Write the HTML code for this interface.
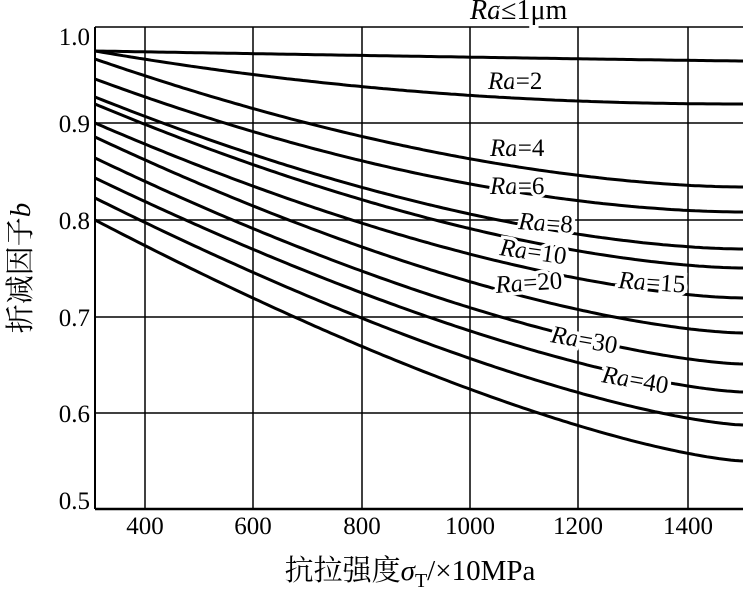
<!DOCTYPE html>
<html><head><meta charset="utf-8"><style>
html,body{margin:0;padding:0;background:#fff;}
svg{display:block;font-family:"Liberation Serif","Noto Serif CJK SC",serif;}
</style></head><body>
<svg id="s" width="745" height="608" viewBox="0 0 745 608" xmlns="http://www.w3.org/2000/svg">
<g stroke="#000" stroke-width="1.5" fill="none">
<line x1="95" y1="27" x2="743" y2="27"/>
<line x1="95" y1="123" x2="743" y2="123"/>
<line x1="95" y1="220" x2="743" y2="220"/>
<line x1="95" y1="317" x2="743" y2="317"/>
<line x1="95" y1="413" x2="743" y2="413"/>
<line x1="145" y1="27" x2="145" y2="508"/>
<line x1="253" y1="27" x2="253" y2="508"/>
<line x1="362" y1="27" x2="362" y2="508"/>
<line x1="470" y1="27" x2="470" y2="508"/>
<line x1="578" y1="27" x2="578" y2="508"/>
<line x1="688" y1="27" x2="688" y2="508"/>
<line x1="95" y1="27" x2="95" y2="509" stroke-width="2"/>
<line x1="95" y1="509" x2="743" y2="509" stroke-width="2.5"/>
</g>
<g id="curves" stroke="#000" stroke-width="3" fill="none"></g>
<g font-size="25" fill="#000" text-anchor="end">
<text x="90" y="45">1.0</text><text x="90" y="132">0.9</text><text x="90" y="229">0.8</text>
<text x="90" y="326">0.7</text><text x="90" y="422">0.6</text><text x="90" y="509">0.5</text>
</g>
<g font-size="25" fill="#000" text-anchor="middle">
<text x="145" y="534">400</text><text x="253" y="534">600</text><text x="362" y="534">800</text>
<text x="470" y="534">1000</text><text x="578" y="534">1200</text><text x="688" y="534">1400</text>
</g>
<text x="410" y="580" font-size="29" text-anchor="middle">抗拉强度<tspan font-style="italic">σ</tspan><tspan font-size="20" dy="7">T</tspan><tspan dy="-7">/×10MPa</tspan></text>
<text transform="translate(30,268) rotate(-90)" font-size="29" text-anchor="middle">折减因子<tspan font-style="italic">b</tspan></text>
<g font-size="25" fill="#000" stroke="#fff" stroke-width="7" paint-order="stroke">
<text x="470" y="19" font-size="28"><tspan font-style="italic">Ra</tspan>≤1μm</text>
<text x="488" y="89"><tspan font-style="italic">Ra</tspan>=2</text>
<text x="490" y="156"><tspan font-style="italic">Ra</tspan>=4</text>
<text x="490" y="194"><tspan font-style="italic">Ra</tspan>=6</text>
<text x="518" y="229" transform="rotate(4 518 229)"><tspan font-style="italic">Ra</tspan>=8</text>
<text x="499" y="255" transform="rotate(8 499 255)"><tspan font-style="italic">Ra</tspan>=10</text>
<text x="618" y="288" transform="rotate(4 618 288)"><tspan font-style="italic">Ra</tspan>=15</text>
<text x="496" y="293" transform="rotate(-4 496 293)"><tspan font-style="italic">Ra</tspan>=20</text>
<text x="550" y="342" transform="rotate(10 550 342)"><tspan font-style="italic">Ra</tspan>=30</text>
<text x="601" y="382" transform="rotate(10 601 382)"><tspan font-style="italic">Ra</tspan>=40</text>
</g>
<script>
var c=[[51,61,1.1],[51,104,2.1],[59,187,1.75],[79,212,1.8],[97,249,1.7],[104,268,1.65],[123,298,1.6],[137,333,1.55],[158,364,1.5],[178,392,1.45],[198,425,1.42],[220,461,1.4]];
var g=document.getElementById('curves'),ns='http://www.w3.org/2000/svg';
c.forEach(function(k){var d='';for(var x=95;x<=743;x+=4){var t=(x-95)/648;var y=k[0]+(k[1]-k[0])*(1-Math.pow(1-t,k[2]));d+=(d?'L':'M')+x+','+y.toFixed(1);}
var p=document.createElementNS(ns,'path');p.setAttribute('d',d);g.appendChild(p);});
</script>
</svg>
</body></html>
